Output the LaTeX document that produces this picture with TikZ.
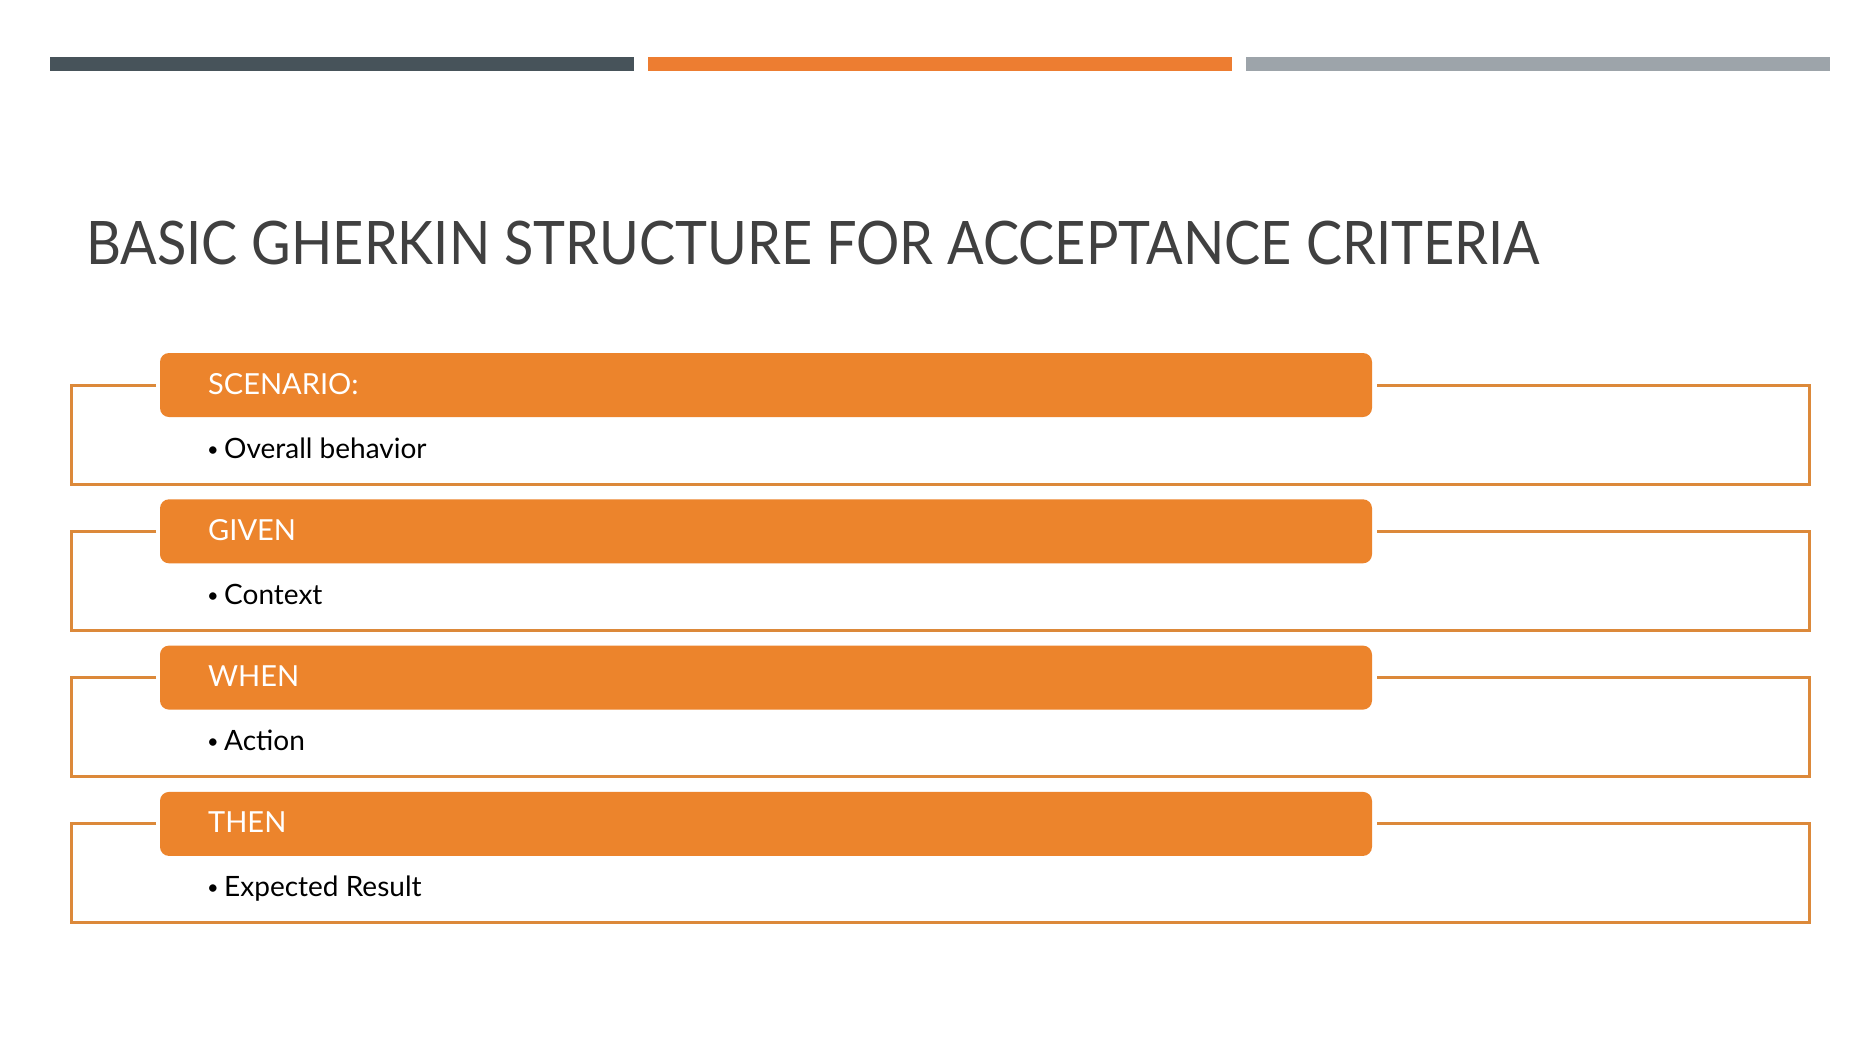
\documentclass[tikz,border=0pt]{standalone}
\usepackage{fontspec}
\setmainfont{Lato}
\definecolor{barDark}{HTML}{47535A}
\definecolor{barOrange}{HTML}{ED7D31}
\definecolor{barGray}{HTML}{9DA4AA}
\definecolor{boxOrange}{HTML}{EC842C}
\definecolor{lineOrange}{HTML}{DC893A}
\definecolor{titleGray}{HTML}{404040}
\tikzset{
  topbar/.style={inner sep=0pt, minimum width=584pt, minimum height=14.5pt, anchor=north west},
  hdr/.style={fill=boxOrange, rounded corners=9pt, minimum width=1212pt, minimum height=64pt, inner sep=0pt},
  hdrtext/.style={text=white, font=\fontsize{29}{32}\selectfont, anchor=base west, inner sep=0pt},
  bul/.style={text=black, font=\fontsize{20}{22}\selectfont, anchor=base west, inner sep=0pt},
  itemtext/.style={text=black, font=\fontsize{28}{30}\selectfont, anchor=base west, inner sep=0pt},
  frame/.style={draw=lineOrange, line width=3pt},
}
\begin{document}
\begin{tikzpicture}[x=1pt,y=-1pt]
\useasboundingbox[fill=white] (0,0) rectangle (1869,1045);
\node[topbar, fill=barDark] (bar1) at (50,56.5) {};
\node[topbar, fill=barOrange] (bar2) at (648,56.5) {};
\node[topbar, fill=barGray] (bar3) at (1246,56.5) {};
\node[anchor=base west, inner sep=0pt, text=titleGray, font=\fontsize{60}{66}\selectfont, xscale=0.902] (title) at (86,264.5) {BASIC GHERKIN STRUCTURE FOR ACCEPTANCE CRITERIA};
\foreach \name/\lab/\txt [count=\i from 0] in {scn/SCENARIO:/Overall behavior, giv/GIVEN/Context, whn/WHEN/Action, thn/THEN/Expected Result}{
  \pgfmathsetmacro{\oy}{\i*146.3}
  \begin{scope}[yshift=-\oy pt]
    \draw[frame] (156,385) -- (71.5,385) -- (71.5,484) -- (1809.5,484) -- (1809.5,385) -- (1377,385);
    \node[hdr] (\name) at (766,385) {};
    \node[hdrtext] (\name lbl) at (208,394) {\lab};
    \node[bul] (\name bul) at (207,456) {\textbullet};
    \node[itemtext] (\name item) at (224,458) {\txt};
  \end{scope}
}
\end{tikzpicture}
\end{document}
